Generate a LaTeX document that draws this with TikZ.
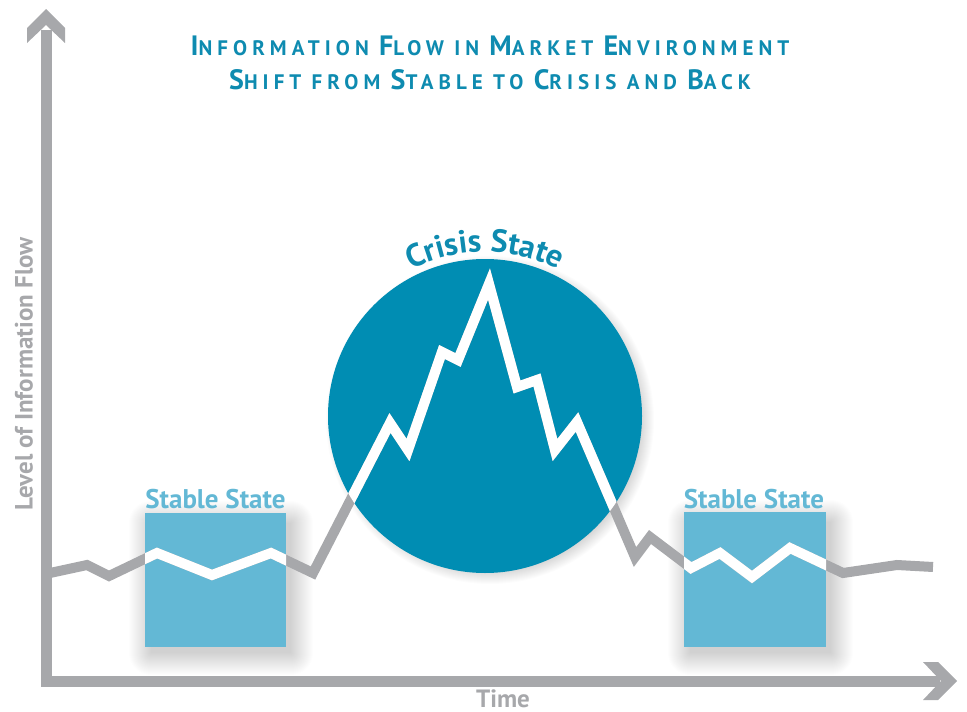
\documentclass[tikz,border=0pt]{standalone}
\usepackage{fontspec}
\setmainfont{PT Sans}
\usetikzlibrary{decorations.text}
\definecolor{axisgray}{HTML}{A7A8AB}
\definecolor{titleblue}{HTML}{0E8BB0}
\definecolor{crisisblue}{HTML}{008DB3}
\definecolor{stableblue}{HTML}{63B8D5}
\newcommand\bigsc[1]{{\fontsize{28}{28}\selectfont #1}}
\newcommand\smsc[1]{{\fontsize{21}{21}\selectfont #1}}
\def\flowpath{(50,573) -- (87,565) -- (109,576) -- (157,553) -- (212,575) -- (271,553) -- (313,573) -- (390,423) -- (408,450) -- (442,352) -- (458,360) -- (489,284) -- (517,387) -- (537,380) -- (555,450) -- (577,422) -- (635,557) -- (650,537) -- (691,568) -- (720,553) -- (752,577) -- (790,548) -- (843,573) -- (897,565) -- (933,567)}
\begin{document}
\begin{tikzpicture}[x=1pt,y=-1pt,
  axisline/.style={draw=axisgray, line width=11pt},
  arrowhead/.style={fill=axisgray},
  flowgray/.style={draw=axisgray, line width=10pt, line join=miter},
  flowwhite/.style={draw=white, line width=10pt, line join=miter},
  statebox/.style={fill=stableblue},
  statelabel/.style={text=stableblue, font=\bfseries\fontsize{27}{27}\selectfont, anchor=base, inner sep=0pt},
  axislabel/.style={text=axisgray, font=\bfseries\fontsize{25}{25}\selectfont, inner sep=0pt},
  titletext/.style={text=titleblue, font=\bfseries\fontsize{21}{21}\selectfont\addfontfeature{LetterSpace=24}, anchor=base, inner sep=0pt}]
\useasboundingbox (0,0) rectangle (967,712);

% axes
\coordinate (ytop) at (46,30);
\coordinate (origin) at (46,681);
\coordinate (xend) at (940,681);
\draw[axisline, line join=miter] (ytop) -- (origin) -- (xend);
\fill[arrowhead] (46,9) -- (65,28) -- (65,43) -- (46,25) -- (27,43) -- (27,28) -- cycle;
\fill[arrowhead] (957,681) -- (938,662) -- (923,662) -- (941,681) -- (923,700) -- (938,700) -- cycle;

% axis labels
\node[axislabel, rotate=90] (ylabel) at (24,374) {Level of Information Flow};
\node[axislabel, anchor=base] (xlabel) at (503,707) {Time};

% title
\node[titletext] (title1) at (490,55) {\bigsc{I}\smsc{NFORMATION} \bigsc{F}\smsc{LOW IN} \bigsc{M}\smsc{ARKET} \bigsc{E}\smsc{NVIRONMENT}};
\node[titletext] (title2) at (490,89) {\bigsc{S}\smsc{HIFT FROM} \bigsc{S}\smsc{TABLE TO} \bigsc{C}\smsc{RISIS AND} \bigsc{B}\smsc{ACK}};

% soft shadows
\foreach \r in {0,...,22}{
  \fill[black, opacity=0.009, rounded corners=\r pt] (145+6-\r,513+10-\r) rectangle (286+5+\r,647+6+\r);
  \fill[black, opacity=0.009, rounded corners=\r pt] (684+6-\r,512+10-\r) rectangle (826+5+\r,647+6+\r);
  \fill[black, opacity=0.011] (490,420) circle[radius=142pt+\r pt];
}

% boxes and circle
\fill[statebox] (145,513) rectangle (286,647);
\fill[statebox] (684,512) rectangle (826,647);
\node[statelabel] (stable1) at (215.5,508) {Stable State};
\node[statelabel] (stable2) at (754,508) {Stable State};
\fill[crisisblue] (485,416) circle[radius=157pt];
\node[circle, minimum size=314pt, inner sep=0pt] (crisis) at (485,416) {};

% curved label
\path[decorate, decoration={text along path, text align=center, text color=titleblue,
  text={|\bfseries\fontsize{32}{32}\selectfont|Crisis State}}]
  ([shift={(140:164pt)}]485,416) arc[start angle=140, end angle=40, radius=164pt];

% flow line
\draw[flowgray] \flowpath;
\begin{scope}
  \clip (145,513) rectangle (286,647);
  \draw[flowwhite] \flowpath;
\end{scope}
\begin{scope}
  \clip (684,512) rectangle (826,647);
  \draw[flowwhite] \flowpath;
\end{scope}
\begin{scope}
  \clip (485,416) circle[radius=157pt];
  \draw[flowwhite] \flowpath;
\end{scope}
\end{tikzpicture}
\end{document}
